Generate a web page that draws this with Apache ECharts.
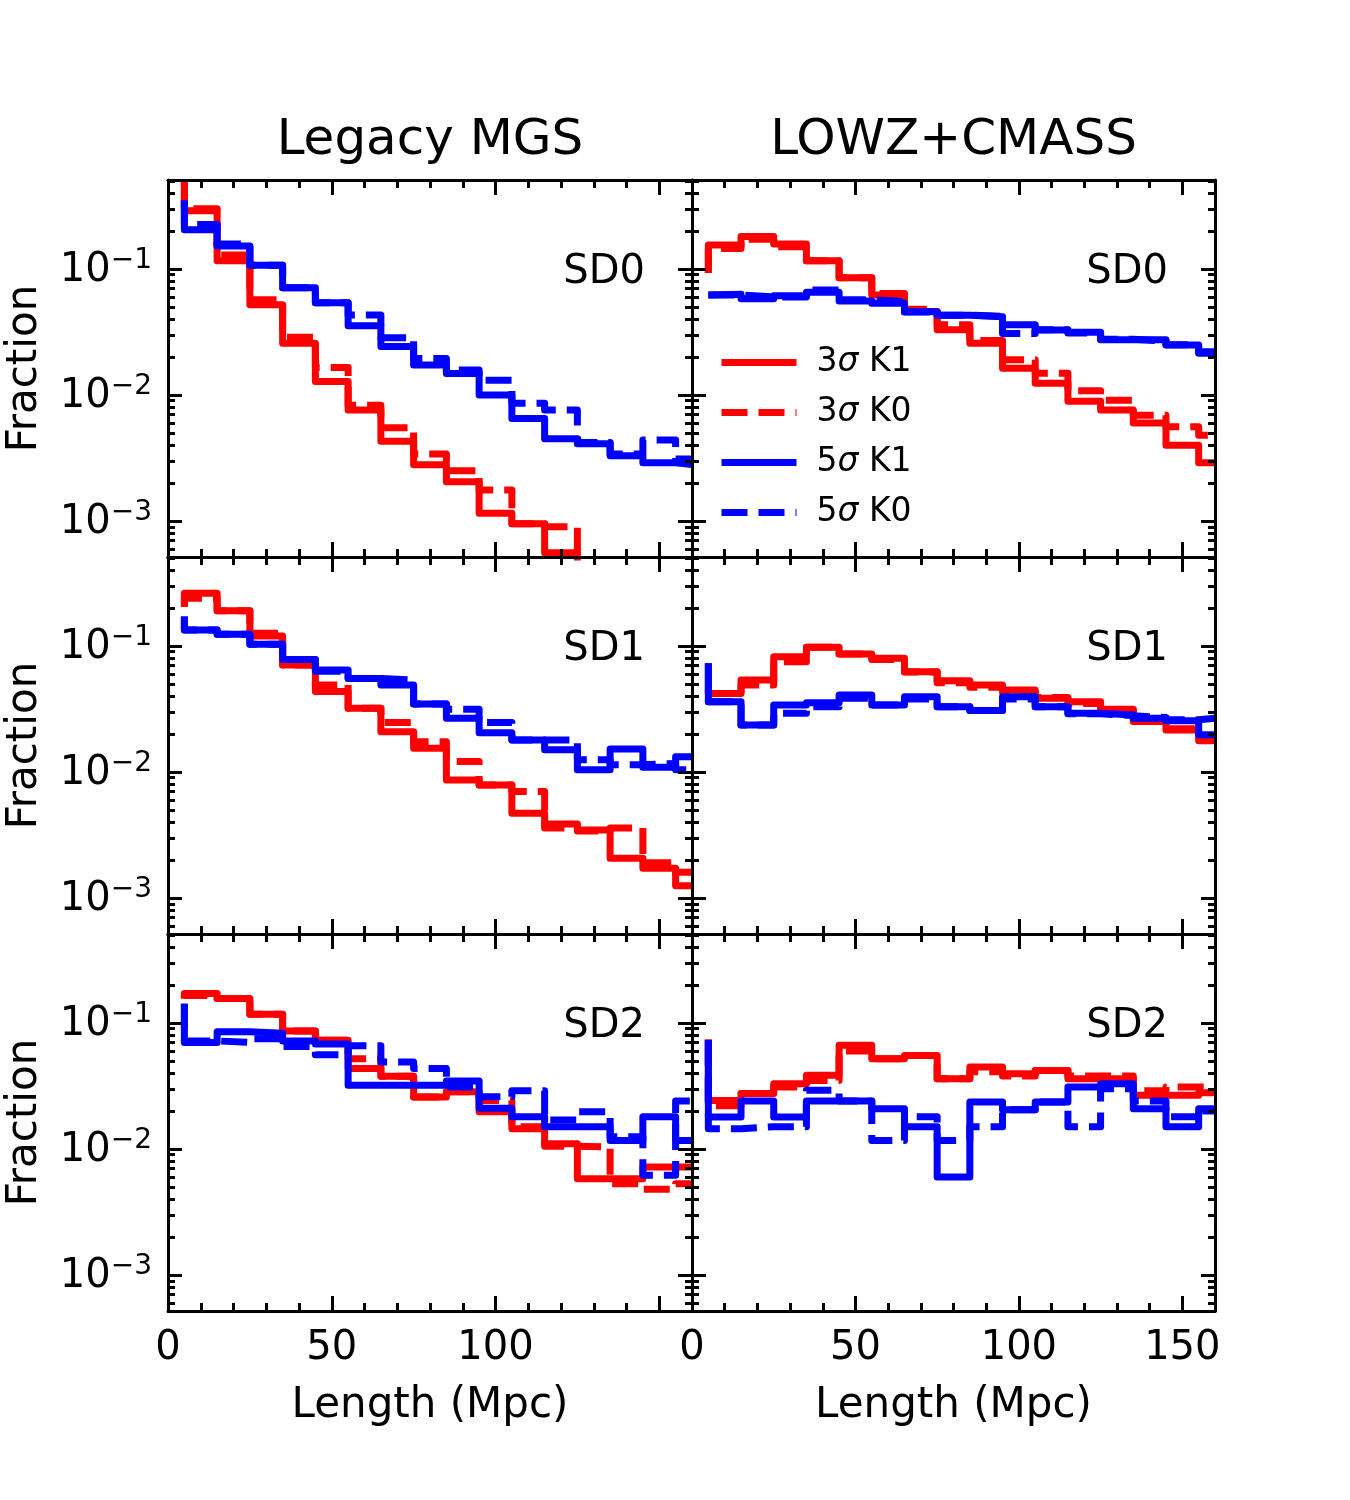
<!DOCTYPE html>
<html>
<head>
<meta charset="utf-8">
<script src="https://cdn.jsdelivr.net/npm/echarts@6/dist/echarts.min.js"></script>
<style>html,body{margin:0;padding:0;background:#fff}#c{width:1350px;height:1500px}</style>
</head>
<body>
<div id="c"></div>
<script>
// ---------------- DATA ----------------
// Step positions (Mpc): value i is drawn as a 'pre' step ending at lengthEdges[i]
const lengthEdges = [5, 15, 25, 35, 45, 55, 65, 75, 85, 95, 105, 115, 125, 135, 145, 155, 160];
const columnTitles = ['Legacy MGS', 'LOWZ+CMASS'];
const rowLabels = ['SD0', 'SD1', 'SD2'];
const seriesNames = ['3σ K1', '3σ K0', '5σ K1', '5σ K0'];
const xMajorTicks = [0, 50, 100, 150];
const xMinorTicks = [10, 20, 30, 40, 60, 70, 80, 90, 110, 120, 130, 140, 160];
const xTickLabelsLeft = [0, 50, 100];
const xTickLabelsRight = [0, 50, 100, 150];
const yMajorExponents = [-3, -2, -1];
const yMinorMantissas = [2, 3, 4, 5, 6, 7, 8, 9];
const yRange = [0.000518, 0.508];

// Legacy MGS, SD0
const mgsSD0_3K1 = [0.5, 0.29, 0.116, 0.052, 0.0257, 0.0128, 0.0076, 0.0043, 0.0028, 0.00205, 0.00115, 0.00095, 0.00056, 0, 0, 0, 0];
const mgsSD0_3K0 = [0.5, 0.30, 0.129, 0.057, 0.0287, 0.0165, 0.0083, 0.0055, 0.0034, 0.0025, 0.00176, 0.00095, 0.0009, 0, 0, 0, 0];
const mgsSD0_5K1 = [0.35, 0.205, 0.152, 0.107, 0.071, 0.054, 0.0355, 0.0242, 0.0173, 0.0148, 0.0100, 0.0065, 0.0045, 0.0041, 0.0033, 0.0029, 0.0028];
const mgsSD0_5K0 = [0.35, 0.225, 0.158, 0.107, 0.071, 0.054, 0.0432, 0.0285, 0.0195, 0.0158, 0.0131, 0.0086, 0.0076, 0.0042, 0.0034, 0.0044, 0.0031];
// LOWZ+CMASS, SD0
const lcSD0_3K1 = [0.093, 0.155, 0.181, 0.158, 0.116, 0.085, 0.062, 0.046, 0.033, 0.0257, 0.0163, 0.0124, 0.0089, 0.0076, 0.0060, 0.0040, 0.0029];
const lcSD0_3K0 = [0.093, 0.145, 0.172, 0.150, 0.116, 0.085, 0.064, 0.048, 0.036, 0.027, 0.019, 0.0149, 0.0108, 0.0091, 0.0069, 0.0056, 0.0048];
const lcSD0_5K1 = [0.062, 0.063, 0.058, 0.0614, 0.0653, 0.0557, 0.0534, 0.0458, 0.043, 0.0418, 0.036, 0.0328, 0.0314, 0.0274, 0.0274, 0.0249, 0.0214];
const lcSD0_5K0 = [0.062, 0.062, 0.060, 0.060, 0.068, 0.057, 0.055, 0.0455, 0.043, 0.042, 0.0308, 0.033, 0.031, 0.0277, 0.0268, 0.025, 0.022];
// Legacy MGS, SD1
const mgsSD1_3K1 = [0.205, 0.262, 0.19, 0.12, 0.0706, 0.0435, 0.032, 0.0209, 0.0154, 0.00865, 0.0079, 0.0047, 0.00387, 0.00347, 0.00207, 0.00172, 0.00125];
const mgsSD1_3K0 = [0.205, 0.239, 0.19, 0.126, 0.0706, 0.049, 0.032, 0.0247, 0.0174, 0.0121, 0.0079, 0.007, 0.0036, 0.0034, 0.0036, 0.0019, 0.0016];
const mgsSD1_5K1 = [0.171, 0.134, 0.124, 0.103, 0.078, 0.0645, 0.0553, 0.049, 0.0347, 0.0267, 0.0205, 0.0179, 0.015, 0.0104, 0.0152, 0.0109, 0.0132];
const mgsSD1_5K0 = [0.171, 0.134, 0.124, 0.103, 0.078, 0.063, 0.0553, 0.0537, 0.0347, 0.0314, 0.0247, 0.0179, 0.0179, 0.0125, 0.0114, 0.0117, 0.0104];
// LOWZ+CMASS, SD1
const lcSD1_3K1 = [0.045, 0.042, 0.0537, 0.082, 0.0977, 0.0864, 0.0798, 0.0625, 0.053, 0.049, 0.0448, 0.0385, 0.0361, 0.0314, 0.0251, 0.0215, 0.0177];
const lcSD1_3K0 = [0.045, 0.042, 0.049, 0.075, 0.0977, 0.0864, 0.078, 0.062, 0.051, 0.047, 0.043, 0.039, 0.035, 0.031, 0.026, 0.022, 0.019];
const lcSD1_5K1 = [0.0728, 0.0361, 0.0236, 0.034, 0.0355, 0.0408, 0.034, 0.0396, 0.033, 0.0307, 0.0396, 0.033, 0.0292, 0.0283, 0.0267, 0.0255, 0.0197];
const lcSD1_5K0 = [0.0728, 0.0361, 0.0236, 0.0292, 0.033, 0.0385, 0.034, 0.038, 0.033, 0.0307, 0.038, 0.033, 0.029, 0.028, 0.027, 0.026, 0.0267];
// Legacy MGS, SD2
const mgsSD2_3K1 = [0.156, 0.171, 0.156, 0.117, 0.0864, 0.0728, 0.0435, 0.0377, 0.0259, 0.0285, 0.0197, 0.0145, 0.011, 0.0058, 0.0058, 0.0072, 0.0072];
const mgsSD2_3K0 = [0.156, 0.165, 0.156, 0.117, 0.0864, 0.0728, 0.052, 0.0377, 0.0259, 0.0285, 0.0243, 0.0150, 0.0105, 0.0104, 0.0053, 0.0048, 0.0053];
const mgsSD2_5K1 = [0.142, 0.07, 0.085, 0.083, 0.072, 0.068, 0.032, 0.032, 0.032, 0.0347, 0.021, 0.018, 0.015, 0.015, 0.0117, 0.018, 0.0117];
const mgsSD2_5K0 = [0.142, 0.072, 0.07, 0.075, 0.065, 0.056, 0.066, 0.049, 0.0435, 0.031, 0.026, 0.029, 0.017, 0.0197, 0.0125, 0.0062, 0.024];
// LOWZ+CMASS, SD2
const lcSD2_3K1 = [0.074, 0.0243, 0.0275, 0.033, 0.0385, 0.0665, 0.052, 0.0553, 0.036, 0.0448, 0.0396, 0.042, 0.0361, 0.036, 0.0267, 0.0267, 0.028];
const lcSD2_3K0 = [0.074, 0.022, 0.0275, 0.031, 0.035, 0.06, 0.052, 0.0553, 0.036, 0.041, 0.038, 0.042, 0.038, 0.038, 0.029, 0.031, 0.031];
const lcSD2_5K1 = [0.073, 0.0179, 0.024, 0.0179, 0.024, 0.024, 0.0209, 0.015, 0.006, 0.0236, 0.0205, 0.0236, 0.031, 0.033, 0.0209, 0.015, 0.0209];
const lcSD2_5K0 = [0.073, 0.0145, 0.015, 0.015, 0.0292, 0.024, 0.0117, 0.018, 0.0117, 0.015, 0.0205, 0.0236, 0.015, 0.03, 0.024, 0.018, 0.02];

// ---------------- LAYOUT / STYLE ----------------
const FONT = 'DejaVu Sans';
const colLeft = [168, 692];
const colWidth = [524, 523];
const rowTop = [180, 557, 934];
const rowHeight = 377;
const seriesColors = ['#ff0000', '#ff0000', '#0000ff', '#0000ff'];
const seriesDashed = [false, true, false, true];

const panels = [
  { row: 0, col: 0, sets: [mgsSD0_3K1, mgsSD0_3K0, mgsSD0_5K1, mgsSD0_5K0] },
  { row: 0, col: 1, sets: [lcSD0_3K1, lcSD0_3K0, lcSD0_5K1, lcSD0_5K0] },
  { row: 1, col: 0, sets: [mgsSD1_3K1, mgsSD1_3K0, mgsSD1_5K1, mgsSD1_5K0] },
  { row: 1, col: 1, sets: [lcSD1_3K1, lcSD1_3K0, lcSD1_5K1, lcSD1_5K0] },
  { row: 2, col: 0, sets: [mgsSD2_3K1, mgsSD2_3K0, mgsSD2_5K1, mgsSD2_5K0] },
  { row: 2, col: 1, sets: [lcSD2_3K1, lcSD2_3K0, lcSD2_5K1, lcSD2_5K0] }
];

const yLogMin = Math.log10(yRange[0]);
const yLogMax = Math.log10(yRange[1]);
const yMajorTicks = yMajorExponents.slice();
const yMinorTicks = [];
[-4, -3, -2, -1].forEach(e => yMinorMantissas.forEach(m => {
  const v = e + Math.log10(m);
  if (v > yLogMin && v < yLogMax) yMinorTicks.push(v);
}));

const grids = [], xAxes = [], yAxes = [], series = [];
const lineCol = '#000';

panels.forEach((p, g) => {
  grids.push({ left: colLeft[p.col], top: rowTop[p.row], width: colWidth[p.col], height: rowHeight, containLabel: false });
  const bottomRow = p.row === 2;
  const leftCol = p.col === 0;
  const mkX = (pos, major) => {
    const showLab = major && pos === 'bottom' && bottomRow;
    return {
      gridIndex: g, type: 'value', min: 0, max: 160, interval: 50, position: pos,
      name: (showLab ? 'Length (Mpc)' : ''), nameLocation: 'middle', nameGap: 74,
      nameTextStyle: { fontFamily: FONT, fontSize: 42, color: '#000' },
      axisLine: { show: major, onZero: false, lineStyle: { color: lineCol, width: 3 } },
      axisTick: { show: true, inside: true, length: major ? 15 : 8, lineStyle: { color: lineCol, width: 3 },
                  customValues: major ? xMajorTicks : xMinorTicks },
      axisLabel: { show: showLab, customValues: leftCol ? xTickLabelsLeft : xTickLabelsRight,
                   margin: 18, fontFamily: FONT, fontSize: 40, color: '#000' },
      splitLine: { show: false }, z: 5
    };
  };
  const mkY = (pos, major) => {
    const showLab = major && pos === 'left' && leftCol;
    return {
      gridIndex: g, type: 'value', min: yLogMin, max: yLogMax, position: pos,
      name: (showLab ? 'Fraction' : ''), nameLocation: 'middle', nameGap: 122, nameRotate: 90,
      nameTextStyle: { fontFamily: FONT, fontSize: 42, color: '#000' },
      axisLine: { show: major, onZero: false, lineStyle: { color: lineCol, width: 3 } },
      axisTick: { show: true, inside: true, length: major ? 14 : 7, lineStyle: { color: lineCol, width: 3 },
                  customValues: major ? yMajorTicks : yMinorTicks },
      axisLabel: { show: showLab, customValues: yMajorTicks, margin: 16,
                   formatter: v => '{b|10}{s|\u2212' + Math.round(-v) + '}',
                   rich: {
                     b: { fontFamily: FONT, fontSize: 40, color: '#000', lineHeight: 44, verticalAlign: 'bottom' },
                     s: { fontFamily: FONT, fontSize: 28, color: '#000', lineHeight: 44, verticalAlign: 'top' }
                   } },
      splitLine: { show: false }, z: 5
    };
  };
  xAxes.push(mkX('bottom', true), mkX('bottom', false), mkX('top', true), mkX('top', false));
  yAxes.push(mkY('left', true), mkY('left', false), mkY('right', true), mkY('right', false));
  p.sets.forEach((vals, k) => {
    series.push({
      type: 'line', name: seriesNames[k], xAxisIndex: 4 * g, yAxisIndex: 4 * g,
      data: lengthEdges.map((x, i) => [x, vals[i] > 0 ? Math.log10(vals[i]) : -8]),
      step: 'start', symbol: 'none', showSymbol: false, clip: true, silent: true,
      lineStyle: { color: seriesColors[k], width: 7, type: seriesDashed[k] ? [26, 11] : 'solid', join: 'round', cap: 'butt' },
      itemStyle: { color: seriesColors[k] },
      z: 2
    });
  });
});

const graphics = [];
columnTitles.forEach((t, c) => graphics.push({
  type: 'text', x: colLeft[c] + colWidth[c] / 2, y: 141,
  style: { text: t, fontFamily: FONT, fontSize: 50, fill: '#000', align: 'center', verticalAlign: 'middle' }
}));
panels.forEach(p => graphics.push({
  type: 'text', x: colLeft[p.col] + colWidth[p.col] - 47, y: rowTop[p.row] + 93,
  style: { text: rowLabels[p.row], fontFamily: FONT, fontSize: 40, fill: '#000', align: 'right', verticalAlign: 'middle' }
}));

const chart = echarts.init(document.getElementById('c'), null, { renderer: 'canvas' });
chart.setOption({
  animation: false,
  backgroundColor: '#fff',
  grid: grids,
  xAxis: xAxes,
  yAxis: yAxes,
  series: series,
  legend: {
    data: seriesNames, orient: 'vertical', left: 713, top: 341,
    itemWidth: 75, itemHeight: 20, itemGap: 17, selectedMode: false,
    itemStyle: { opacity: 0 },
    lineStyle: { width: 7 },
    formatter: n => n.replace('σ', '{i|σ}'),
    textStyle: { fontFamily: FONT, fontSize: 33, color: '#000', padding: [0, 0, 0, 15],
                 rich: { i: { fontFamily: FONT, fontSize: 33, fontStyle: 'italic', color: '#000' } } }
  },
  graphic: graphics
});
</script>
</body>
</html>
